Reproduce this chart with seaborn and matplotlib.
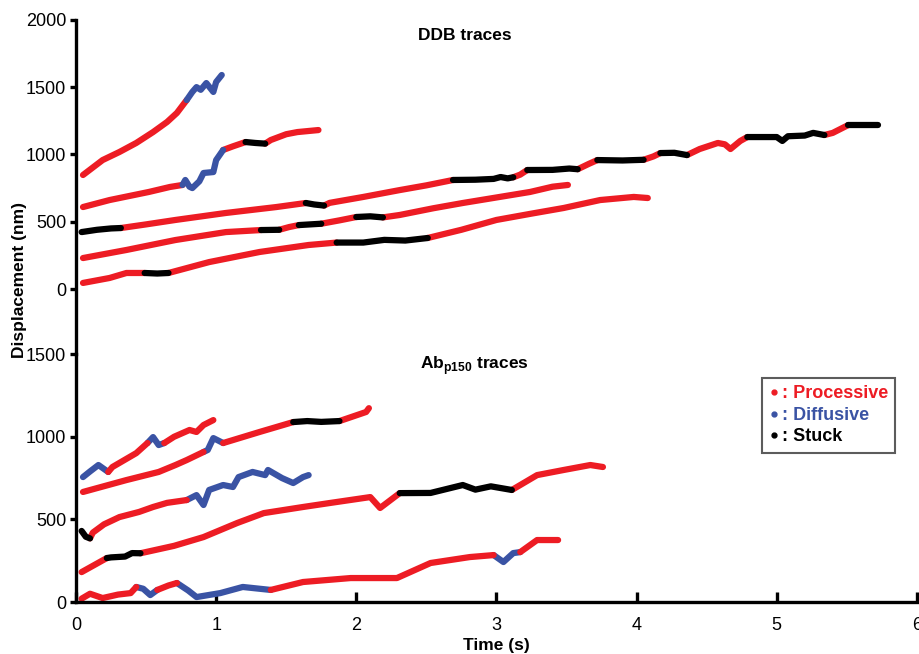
import numpy as np
import pandas as pd
import matplotlib
matplotlib.use('Agg')
import matplotlib.pyplot as plt
from matplotlib.lines import Line2D
import seaborn as sns

# State colours: P = processive, D = diffusive, S = stuck
state_colors = {'P': '#ED1C24', 'D': '#3A53A4', 'S': '#000000'}

# ---- DDB traces (top panel) ----
ddb1_t = [0.05, 0.19, 0.31, 0.43, 0.55, 0.65, 0.72, 0.79,
          0.83, 0.86, 0.89, 0.93, 0.98, 1.00, 1.04]
ddb1_nm = [847, 958, 1018, 1085, 1166, 1241, 1308, 1404,
           1464, 1500, 1480, 1530, 1464, 1538, 1590]
ddb1_state = list('PPPPPPPP' + 'DDDDDDD')

ddb2_t = [0.05, 0.24, 0.52, 0.67, 0.76,
          0.78, 0.81, 0.83, 0.88, 0.91, 0.98, 1.00, 1.05,
          1.12, 1.21, 1.28, 1.35, 1.39, 1.50, 1.58, 1.73]
ddb2_nm = [609, 661, 721, 758, 773,
           810, 760, 750, 800, 862, 869, 958, 1033,
           1060, 1092, 1085, 1080, 1107, 1150, 1166, 1181]
ddb2_state = list('PPPPP' + 'DDDDDDDD' + 'PP' + 'SS' + 'PPPP')

ddb3_t = [0.04, 0.15, 0.25, 0.32, 0.50, 0.71, 1.07, 1.43, 1.64,
          1.70, 1.77, 1.81, 2.05, 2.31, 2.50, 2.69,
          2.85, 2.98, 3.03, 3.08, 3.12, 3.17, 3.22,
          3.40, 3.52, 3.58, 3.66, 3.72, 3.90, 4.05, 4.12, 4.17,
          4.27, 4.36, 4.45, 4.58, 4.63, 4.67, 4.74, 4.79,
          5.00, 5.04, 5.08, 5.20, 5.26, 5.34, 5.40, 5.51, 5.72]
ddb3_nm = [423, 440, 450, 453, 480, 513, 565, 609, 639,
           628, 620, 640, 684, 735, 770, 810,
           812, 818, 832, 822, 830, 850, 884,
           885, 895, 890, 930, 958, 955, 960, 985, 1010,
           1012, 995, 1040, 1085, 1075, 1040, 1100, 1129,
           1129, 1100, 1135, 1140, 1160, 1144, 1160, 1218, 1218]
ddb3_state = list('SSSS' + 'PPPPP' + 'SS' + 'PPPPP' + 'SSSSS' + 'PP' + 'SSS'
                  + 'PP' + 'SS' + 'PP' + 'SS' + 'PPPPPP' + 'SSSSSS' + 'PP' + 'S')

ddb4_t = [0.05, 0.36, 0.71, 1.07, 1.32, 1.45, 1.52, 1.59, 1.75, 1.88,
          2.00, 2.10, 2.19, 2.31, 2.55, 2.76, 3.00, 3.24, 3.40, 3.51]
ddb4_nm = [230, 290, 364, 423, 438, 440, 460, 475, 485, 510,
           535, 540, 532, 550, 600, 639, 680, 721, 760, 773]
ddb4_state = list('PPPPP' + 'S' + 'PP' + 'S' + 'PP' + 'SS' + 'PPPPPPP')

ddb5_t = [0.05, 0.24, 0.36, 0.49, 0.58, 0.66, 0.95, 1.31, 1.66, 1.86,
          2.05, 2.20, 2.35, 2.51, 2.75, 3.00, 3.25, 3.48, 3.74, 3.98, 4.08]
ddb5_nm = [45, 82, 119, 119, 115, 119, 200, 275, 327, 345,
           345, 365, 360, 379, 440, 513, 560, 602, 661, 684, 676]
ddb5_state = list('PPPP' + 'SS' + 'PPPP' + 'SSSS' + 'PPPPPPP')

# ---- Ab p150 traces (bottom panel) ----
ab1_t = [0.05, 0.10, 0.16, 0.23, 0.26, 0.43, 0.51, 0.55, 0.59, 0.63,
         0.70, 0.81, 0.86, 0.91, 0.98]
ab1_nm = [756, 790, 829, 787, 817, 901, 962, 998, 950, 962,
          1000, 1041, 1029, 1071, 1101]
ab1_state = list('DDDD' + 'PPP' + 'DDD' + 'PPPPP')

ab2_t = [0.05, 0.36, 0.59, 0.71, 0.79, 0.91, 0.94, 0.98, 1.02, 1.05,
         1.31, 1.55, 1.65, 1.75, 1.88, 2.07, 2.09]
ab2_nm = [666, 738, 787, 829, 859, 908, 920, 992, 975, 962,
          1029, 1089, 1095, 1090, 1095, 1150, 1173]
ab2_state = list('PPPPPP' + 'DDDD' + 'PP' + 'SSS' + 'PP')

ab3_t = [0.04, 0.07, 0.10, 0.12, 0.20, 0.31, 0.45, 0.55, 0.65, 0.79,
         0.86, 0.91, 0.95, 1.05, 1.12, 1.16, 1.26, 1.35, 1.37, 1.47,
         1.55, 1.62, 1.66]
ab3_nm = [430, 395, 385, 420, 470, 514, 545, 575, 600, 617,
          647, 587, 678, 708, 696, 756, 787, 768, 799, 750,
          720, 756, 768]
ab3_state = list('SSS' + 'PPPPPPP' + 'DDDDDDDDDDDDD')

ab4_t = [0.04, 0.22, 0.25, 0.35, 0.40, 0.46, 0.70, 0.91, 1.15, 1.34,
         1.62, 1.81, 2.10, 2.17, 2.31, 2.53, 2.76, 2.85, 2.96, 3.11,
         3.29, 3.48, 3.67, 3.76]
ab4_nm = [181, 266, 270, 275, 296, 295, 340, 393, 478, 538,
          575, 599, 635, 569, 659, 660, 708, 680, 700, 678,
          768, 799, 829, 817]
ab4_state = list('PP' + 'SSSS' + 'PPPPPPPPP' + 'SSSSS' + 'PPPP')

ab5_t = [0.04, 0.10, 0.19, 0.30, 0.39, 0.43, 0.48, 0.53, 0.58, 0.66,
         0.72, 0.80, 0.86, 1.03, 1.19, 1.39, 1.62, 1.96, 2.29, 2.53,
         2.81, 2.98, 3.05, 3.12, 3.17, 3.29, 3.44]
ab5_nm = [20, 50, 24, 45, 54, 91, 80, 42, 73, 100,
          115, 70, 30, 54, 91, 73, 121, 145, 145, 236,
          272, 284, 242, 296, 302, 375, 375]
ab5_state = list('PPPPPP' + 'DDD' + 'PP' + 'DDDDD' + 'PPPPPP' + 'DDD' + 'PP')


def trace_frame(name, t, nm, states):
    # split a trace into runs of one state; each run starts at the
    # last point of the previous run so the trace stays continuous
    rows = []
    seg = 0
    for i in range(len(t)):
        if i > 0 and states[i] != states[i - 1]:
            seg += 1
            rows.append((name, f'{name}_{seg}', states[i], t[i - 1], nm[i - 1]))
        rows.append((name, f'{name}_{seg}', states[i], t[i], nm[i]))
    return pd.DataFrame(rows, columns=['trace', 'segment', 'state', 'time', 'nm'])


ddb_df = pd.concat([
    trace_frame('ddb1', ddb1_t, ddb1_nm, ddb1_state),
    trace_frame('ddb2', ddb2_t, ddb2_nm, ddb2_state),
    trace_frame('ddb3', ddb3_t, ddb3_nm, ddb3_state),
    trace_frame('ddb4', ddb4_t, ddb4_nm, ddb4_state),
    trace_frame('ddb5', ddb5_t, ddb5_nm, ddb5_state),
], ignore_index=True)

ab_df = pd.concat([
    trace_frame('ab1', ab1_t, ab1_nm, ab1_state),
    trace_frame('ab2', ab2_t, ab2_nm, ab2_state),
    trace_frame('ab3', ab3_t, ab3_nm, ab3_state),
    trace_frame('ab4', ab4_t, ab4_nm, ab4_state),
    trace_frame('ab5', ab5_t, ab5_nm, ab5_state),
], ignore_index=True)

sns.set_style('ticks')
plt.rcParams['font.family'] = ['Liberation Sans', 'DejaVu Sans']
plt.rcParams['mathtext.fontset'] = 'custom'
plt.rcParams['mathtext.rm'] = 'Liberation Sans'
plt.rcParams['mathtext.bf'] = 'Liberation Sans:bold'
plt.rcParams['text.color'] = 'black'
plt.rcParams['axes.labelcolor'] = 'black'

fig = plt.figure(figsize=(9.2, 6.54), dpi=100)
ax_top = fig.add_axes([0.0826, 0.4587, 0.914, 0.511])
ax_bot = fig.add_axes([0.0826, 0.0795, 0.914, 0.379])

line_kw = dict(hue='state', units='segment', estimator=None, sort=False,
               palette=state_colors, legend=False, linewidth=4.5,
               solid_capstyle='round', solid_joinstyle='round')
sns.lineplot(data=ddb_df, x='time', y='nm', ax=ax_top, **line_kw)
sns.lineplot(data=ab_df, x='time', y='nm', ax=ax_bot, **line_kw)

# top panel: only the left spine
ax_top.set_xlim(0, 6)
ax_top.set_ylim(-483, 2000)
ax_top.set_yticks([0, 500, 1000, 1500, 2000])
for side in ['top', 'right', 'bottom']:
    ax_top.spines[side].set_visible(False)
ax_top.set_xticks([])

ax_bot.set_xlim(0, 6)
ax_bot.set_ylim(0, 1500)
ax_bot.set_yticks([0, 500, 1000, 1500])
ax_bot.set_xticks([0, 1, 2, 3, 4, 5, 6])
for side in ['top', 'right']:
    ax_bot.spines[side].set_visible(False)

for ax in [ax_top, ax_bot]:
    ax.set_xlabel('')
    ax.set_ylabel('')
    ax.patch.set_alpha(0)
    for side in ['left', 'bottom']:
        ax.spines[side].set_linewidth(2.4)
        ax.spines[side].set_color('black')
    ax.tick_params(axis='y', direction='out', length=4, width=2.4,
                   labelsize=13, pad=3, colors='black')
    ax.tick_params(axis='x', direction='in', length=7, width=2.4,
                   labelsize=13, pad=11, colors='black')

ax_top.text(0.4625, 0.952, 'DDB traces', transform=ax_top.transAxes,
            ha='center', va='center', fontsize=12.5, fontweight='bold')
ax_bot.text(0.474, 0.952, r'Ab$_{\mathbf{p150}}$ traces', transform=ax_bot.transAxes,
            ha='center', va='center', fontsize=12.5, fontweight='bold')

ax_bot.set_xlabel('Time (s)', fontsize=12.5, fontweight='bold', labelpad=3)
fig.text(0.021, 0.572, 'Displacement (nm)', rotation=90, ha='center', va='center',
         fontsize=12.5, fontweight='bold')

handles = [Line2D([], [], linestyle='none', marker='o', markersize=3.5,
                  color=state_colors[s]) for s in ['P', 'D', 'S']]
leg = ax_bot.legend(handles, [': Processive', ': Diffusive', ': Stuck'],
                    loc='upper left', bbox_to_anchor=(0.816, 0.903),
                    borderaxespad=0, frameon=True, fancybox=False,
                    handlelength=0.5, handletextpad=0.2, borderpad=0.4,
                    labelspacing=0.25, prop={'size': 13, 'weight': 'bold'})
leg.get_frame().set_edgecolor('#333333')
leg.get_frame().set_linewidth(1.5)
for txt, s in zip(leg.get_texts(), ['P', 'D', 'S']):
    txt.set_color(state_colors[s])

fig.savefig('out.png', dpi=100)
